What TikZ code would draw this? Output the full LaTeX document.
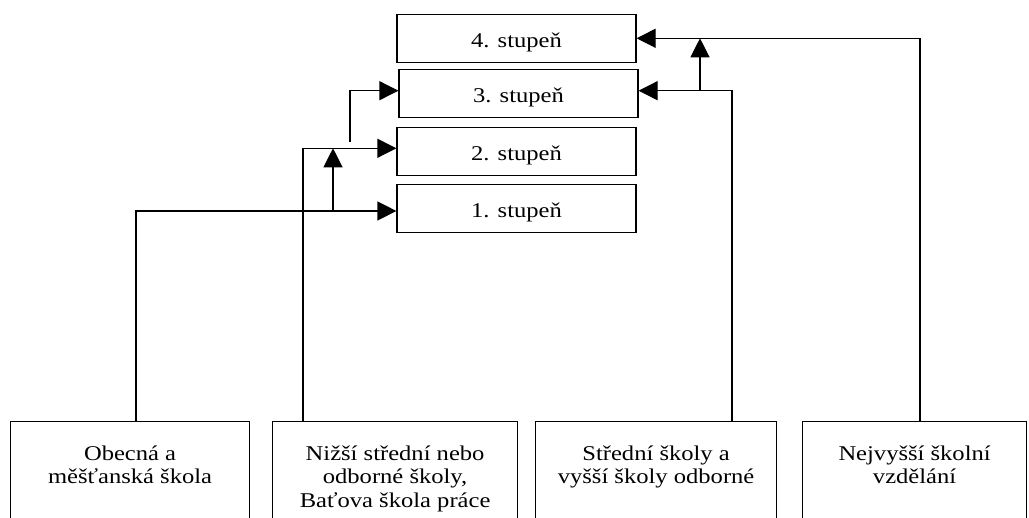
\documentclass[tikz,border=0pt]{standalone}
\usepackage{fontspec}
\setmainfont{Liberation Serif}[FakeStretch=1.17]
\usetikzlibrary{arrows.meta}
\newcommand{\firstline}{\rule{0pt}{20pt}}
\begin{document}
\begin{tikzpicture}[x=1pt,y=-1pt,
  box/.style={draw, line width=1.2pt, inner sep=0pt},
  lvl/.style={box, minimum width=239pt, minimum height=48pt, text height=20pt, text depth=2pt, font=\fontsize{21}{23}\selectfont},
  src/.style={box, minimum width=#1, minimum height=110pt, anchor=north west},
  lbl/.style={anchor=north, align=center, inner sep=0pt, font=\fontsize{21}{23.5}\selectfont},
  conn/.style={line width=1.2pt},
  arr/.style={conn, -{Triangle[length=19pt,width=19pt]}},
]
\useasboundingbox (0,0) rectangle (1029,518);
\clip (0,0) rectangle (1029,518);

% levels
\node[lvl] (s4) at (516.5,38.3) {4. stupeň};
\node[lvl] (s3) at (518.5,93.3) {3. stupeň};
\node[lvl] (s2) at (516.5,151.7) {2. stupeň};
\node[lvl] (s1) at (516.5,208.7) {1. stupeň};

% sources
\node[src=239pt] (b1) at (10,421) {};
\node[src=245pt] (b2) at (272,421) {};
\node[src=241pt] (b3) at (535,421) {};
\node[src=224pt] (b4) at (802,421) {};
\node[lbl] (t1) at ([yshift=-19pt]b1.north) {\firstline Obecná a\\měšťanská škola};
\node[lbl] (t2) at ([yshift=-19pt]b2.north) {\firstline Nižší střední nebo\\odborné školy,\\Baťova škola práce};
\node[lbl] (t3) at ([yshift=-19pt]b3.north) {\firstline Střední školy a\\vyšší školy odborné};
\node[lbl] (t4) at ([yshift=-19pt]b4.north) {\firstline Nejvyšší školní\\vzdělání};

% connection points
\coordinate (c1) at (136,421);
\coordinate (c2) at (303,421);
\coordinate (c3) at (732,421);
\coordinate (c4) at (920,421);
\coordinate (u1) at (333,211);
\coordinate (u1t) at (333,148.3);
\coordinate (v1) at (350,142);
\coordinate (u2) at (700,90.7);
\coordinate (u2t) at (700,38.3);

% connectors
\draw[arr] (c1) |- ([yshift=-2.3pt]s1.west);
\draw[arr] (c2) |- ([yshift=3.4pt]s2.west);
\draw[arr] (u1) -- (u1t);
\draw[arr] (v1) |- ([yshift=2.6pt]s3.west);
\draw[arr] (c3) |- ([yshift=2.6pt]s3.east);
\draw[arr] (u2) -- (u2t);
\draw[arr] (c4) |- (s4.east);
\end{tikzpicture}
\end{document}
